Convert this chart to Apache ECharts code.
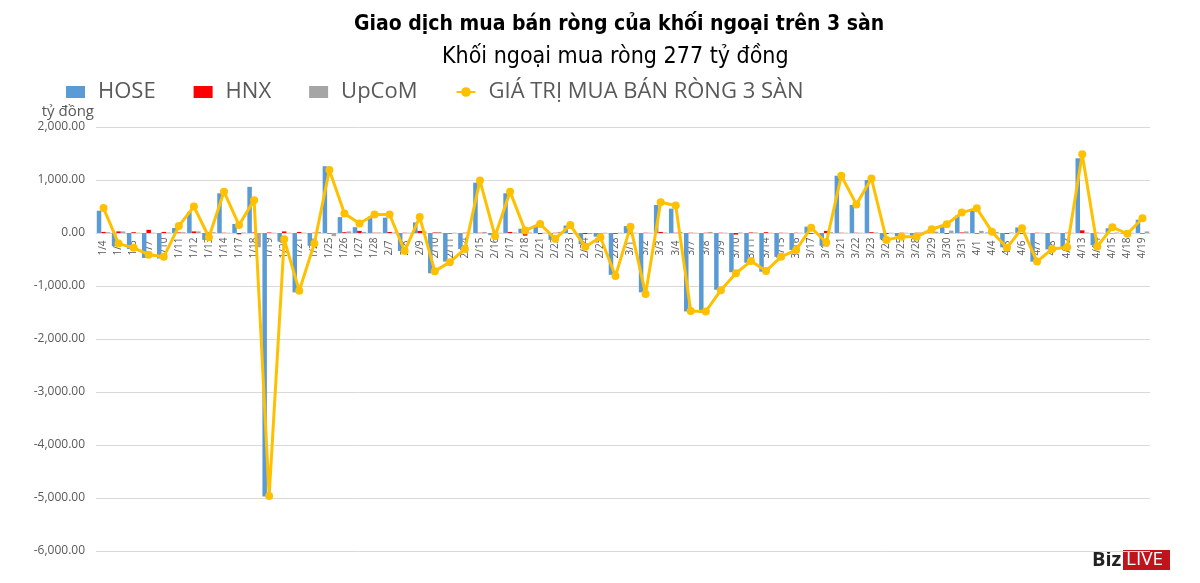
<!DOCTYPE html>
<html>
<head>
<meta charset="utf-8">
<script src="https://cdn.jsdelivr.net/npm/echarts@6/dist/echarts.min.js"></script>
<style>
  html, body { margin: 0; padding: 0; background: #ffffff; }
  #chart { width: 1200px; height: 583px; }
</style>
</head>
<body>
<div id="chart"></div>
<script>
// ngày giao dịch
const days = ['1/4','1/5','1/6','1/7','1/10','1/11','1/12','1/13','1/14','1/17','1/18','1/19','1/20','1/21','1/24','1/25','1/26','1/27','1/28',
  '2/7','2/8','2/9','2/10','2/11','2/14','2/15','2/16','2/17','2/18','2/21','2/22','2/23','2/24','2/25','2/28',
  '3/1','3/2','3/3','3/4','3/7','3/8','3/9','3/10','3/11','3/14','3/15','3/16','3/17','3/18','3/21','3/22','3/23','3/24','3/25','3/28','3/29','3/30','3/31',
  '4/1','4/4','4/5','4/6','4/7','4/8','4/12','4/13','4/14','4/15','4/18','4/19'];

const hose = [420,-250,-300,-470,-480,95,400,-130,750,170,870,-4970,-160,-1120,-240,1260,300,110,310,
  290,-340,200,-760,-540,-300,950,-40,750,80,150,-130,140,-210,-70,-790,
  130,-1120,530,460,-1480,-1510,-1070,-740,-560,-730,-450,-320,120,-240,1080,530,1000,-120,-60,-60,30,110,330,
  420,10,-270,105,-540,-310,-290,1410,-230,90,-10,250];

const hnx = [20,30,15,60,20,10,30,10,5,-25,10,10,30,20,5,-10,15,40,5,
  20,5,40,10,-10,5,5,5,20,-50,-20,5,-15,-20,-10,-15,
  -20,5,20,5,5,5,5,-30,10,15,5,5,-15,40,5,5,15,-15,5,5,10,-15,10,
  -10,5,-15,-15,5,5,5,50,5,-5,5,-10];

const upcom = [15,30,5,5,10,15,30,15,5,10,-270,5,5,5,20,-60,30,20,10,
  10,5,30,20,5,5,20,5,10,10,5,20,5,-20,5,5,
  5,5,10,20,5,20,5,10,10,5,5,5,5,15,5,5,10,5,5,10,25,45,30,
  40,20,10,5,5,5,5,10,5,10,5,30];

const total = [470,-200,-280,-410,-450,130,500,-80,780,150,620,-4960,-120,-1090,-200,1190,370,180,350,
  350,-340,300,-720,-550,-300,990,-60,780,45,170,-110,150,-260,-80,-810,
  120,-1150,580,520,-1470,-1480,-1080,-760,-530,-715,-450,-320,100,-180,1080,540,1030,-130,-70,-70,70,165,385,
  465,25,-280,90,-540,-300,-270,1485,-255,110,-15,277];

const seriesNames = ['HOSE', 'HNX', 'UpCoM', 'GIÁ TRỊ MUA BÁN RÒNG 3 SÀN'];
const seriesColors = ['#5B9BD5', '#FF0000', '#A5A5A5', '#FFC000'];

const narrow = '"Liberation Sans Narrow", "DejaVu Sans Condensed", sans-serif';
const font = '"Open Sans", "Noto Sans", sans-serif';

const chart = echarts.init(document.getElementById('chart'));

const fmt = v => v.toLocaleString('en-US', {minimumFractionDigits: 2, maximumFractionDigits: 2});

const option = {
  backgroundColor: '#ffffff',
  animation: false,
  textStyle: { fontFamily: font },
  title: [
    {
      text: 'Giao dịch mua bán ròng của khối ngoại trên 3 sàn',
      left: 349, top: 9,
      textStyle: { fontFamily: narrow, fontSize: 21, fontWeight: 'bold', color: '#000000' }
    },
    {
      text: 'Khối ngoại mua ròng 277 tỷ đồng',
      left: 437, top: 41,
      textStyle: { fontFamily: narrow, fontSize: 23, fontWeight: 'normal', color: '#000000' }
    }
  ],
  legend: {
    left: 61, top: 76,
    itemGap: 38,
    itemWidth: 19, itemHeight: 12,
    textStyle: { fontFamily: font, fontSize: 22, color: '#595959', padding: [0, 0, 0, 8] },
    data: [
      { name: 'HOSE', icon: 'rect' },
      { name: 'HNX', icon: 'rect' },
      { name: 'UpCoM', icon: 'rect' },
      { name: 'GIÁ TRỊ MUA BÁN RÒNG 3 SÀN', itemWidth: 23 }
    ]
  },
  grid: { left: 96, right: 50, top: 127, bottom: 32 },
  xAxis: {
    type: 'category',
    data: days,
    offset: -318,
    axisLine: { onZero: false, lineStyle: { color: '#d9d9d9', width: 1 } },
    axisTick: { show: false },
    axisLabel: {
      interval: 0, rotate: 90, fontSize: 10, color: '#595959', fontFamily: font,
      align: 'center', verticalAlign: 'middle', margin: 15
    }
  },
  yAxis: {
    type: 'value',
    min: -6000, max: 2000, interval: 1000,
    name: 'tỷ đồng',
    nameLocation: 'end',
    nameGap: 8,
    nameTextStyle: { align: 'right', fontSize: 15, color: '#595959', fontFamily: font, padding: [0, 2, 0, 0] },
    axisLine: { show: false },
    axisTick: { show: false },
    axisLabel: { formatter: fmt, fontSize: 12, color: '#595959', margin: 11, fontFamily: font },
    splitLine: { lineStyle: { color: '#d9d9d9', width: 1 } }
  },
  series: [
    { name: seriesNames[0], type: 'bar', data: hose, barWidth: 4.5, barGap: '0%', itemStyle: { color: seriesColors[0] } },
    { name: seriesNames[1], type: 'bar', data: hnx, barWidth: 4.5, barGap: '0%', itemStyle: { color: seriesColors[1] } },
    { name: seriesNames[2], type: 'bar', data: upcom, barWidth: 4.5, barGap: '0%', itemStyle: { color: seriesColors[2] } },
    {
      name: seriesNames[3], type: 'line', data: total, z: 5,
      symbol: 'circle', symbolSize: 8,
      lineStyle: { color: seriesColors[3], width: 3 },
      itemStyle: { color: seriesColors[3] }
    }
  ],
  graphic: [
    { type: 'text', left: 1092, top: 550, style: { text: 'Biz', fontSize: 20, fontWeight: 'bold', fill: '#222222', fontFamily: font } },
    { type: 'rect', left: 1123, top: 550, shape: { width: 47, height: 20 }, style: { fill: '#C0141C' } },
    { type: 'text', left: 1126, top: 550, style: { text: 'LIVE', fontSize: 19, fill: '#ffffff', fontFamily: font } }
  ]
};

chart.setOption(option);
</script>
</body>
</html>
